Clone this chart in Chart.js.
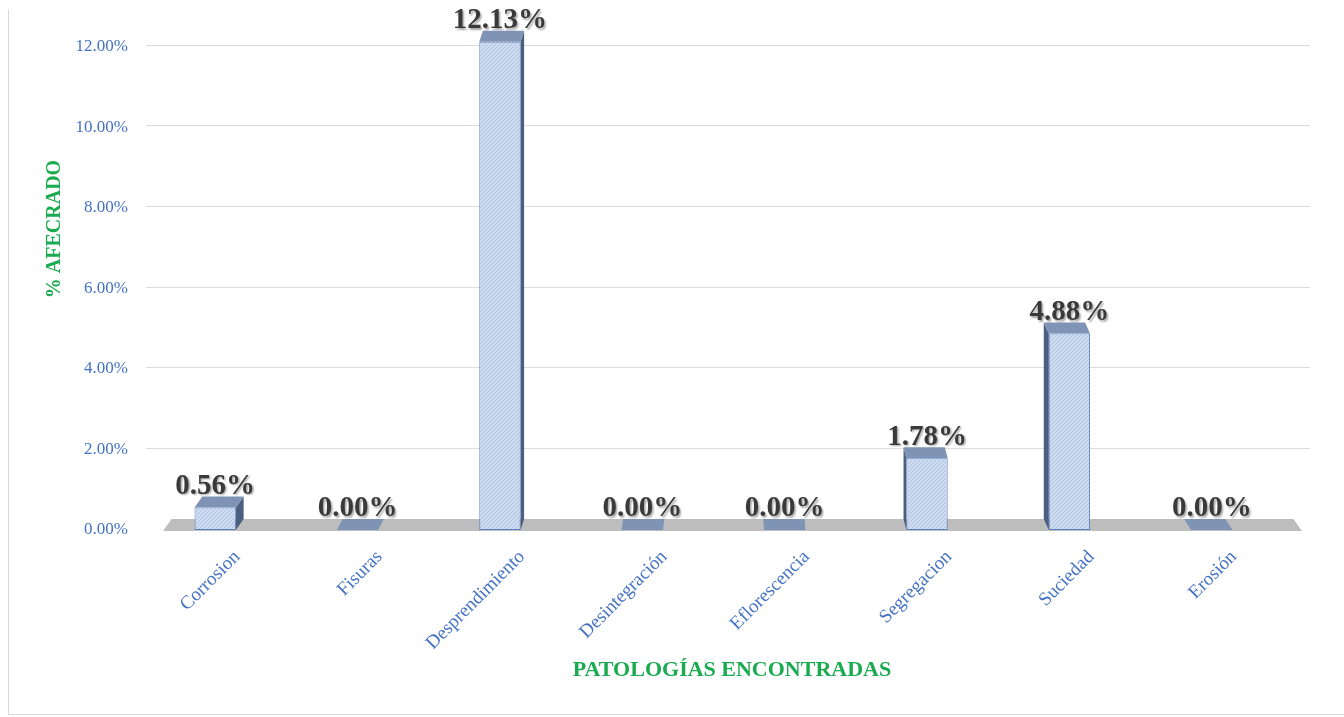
<!DOCTYPE html>
<html><head><meta charset="utf-8">
<script src="https://cdn.jsdelivr.net/npm/chart.js@4"></script>
<style>
html,body{margin:0;padding:0;background:#fff;}
#wrap{position:relative;width:1344px;height:717px;overflow:hidden;}
#frame{position:absolute;left:8px;top:10px;width:1340px;height:704px;border-left:1px solid #d9d9d9;border-bottom:1px solid #d9d9d9;}
canvas{position:absolute;left:0;top:0;}
</style></head><body>
<div id="wrap"><div id="frame"></div><canvas id="c" width="1344" height="717"></canvas></div>
<script>
const categories = ['Corrosion','Fisuras','Desprendimiento','Desintegración','Eflorescencia','Segregacion','Suciedad','Erosión'];
const values = [0.56, 0.00, 12.13, 0.00, 0.00, 1.78, 4.88, 0.00];
const yTickValues = [0, 2, 4, 6, 8, 10, 12];
const yTitle = '% AFECRADO';
const xTitle = 'PATOLOGÍAS ENCONTRADAS';

const SERIF = '"Liberation Serif", "Times New Roman", serif';
const VPX = 735, K = 0.015, DEPTH = 11;

function makePattern(){
  const p = document.createElement('canvas'); p.width = 4; p.height = 4;
  const g = p.getContext('2d');
  g.fillStyle = '#cedcf0'; g.fillRect(0,0,4,4);
  g.fillStyle = '#abc0e2';
  for (let i=0;i<4;i++) g.fillRect(i,3-i,1,1);
  return g.createPattern(p,'repeat');
}
const pattern = makePattern();

const deco = {
  id: 'deco',
  beforeDatasetsDraw(chart){
    const {ctx, chartArea:a, scales:{y}} = chart;
    ctx.save();
    ctx.strokeStyle = '#dcdcdc'; ctx.lineWidth = 1;
    yTickValues.forEach(v => {
      if (v === 0) return;
      const py = Math.round(y.getPixelForValue(v)) - 1.5;
      ctx.beginPath(); ctx.moveTo(a.left+2, py); ctx.lineTo(a.right+27, py); ctx.stroke();
    });
    const b = y.getPixelForValue(0);
    const fl = a.left + 19, fr = a.right + 19;
    ctx.fillStyle = '#bdbdbd';
    ctx.beginPath();
    ctx.moveTo(fl, b+1); ctx.lineTo(fr, b+1);
    ctx.lineTo(fr + (VPX-fr)*K, b-DEPTH); ctx.lineTo(fl + (VPX-fl)*K, b-DEPTH);
    ctx.closePath(); ctx.fill();
    const meta = chart.getDatasetMeta(0);
    meta.data.forEach(el => {
      const {x, y:top, width} = el.getProps(['x','y','width'], true);
      const x0 = x - width/2, x1 = x + width/2, dx = (VPX - x)*K, dy = -DEPTH;
      const sx = dx > 0 ? x1 : x0;
      ctx.fillStyle = '#4b5f80';
      ctx.beginPath(); ctx.moveTo(sx, top); ctx.lineTo(sx+dx, top+dy); ctx.lineTo(sx+dx, b+dy); ctx.lineTo(sx, b); ctx.closePath(); ctx.fill();
      ctx.fillStyle = '#7f93b4';
      ctx.beginPath(); ctx.moveTo(x0, top); ctx.lineTo(x1, top); ctx.lineTo(x1+dx, top+dy); ctx.lineTo(x0+dx, top+dy); ctx.closePath(); ctx.fill();
    });
    ctx.restore();
  },
  afterDatasetsDraw(chart){
    const {ctx} = chart;
    const meta = chart.getDatasetMeta(0);
    ctx.save();
    ctx.font = 'bold 29px ' + SERIF;
    ctx.textAlign = 'center'; ctx.textBaseline = 'middle';
    ctx.shadowColor = 'rgba(0,0,0,0.35)'; ctx.shadowOffsetX = 1.5; ctx.shadowOffsetY = 1.5; ctx.shadowBlur = 2;
    ctx.fillStyle = '#3a3a3a';
    meta.data.forEach((el, i) => {
      const {x, y:top} = el.getProps(['x','y'], true);
      ctx.fillText(values[i].toFixed(2) + '%', x, top - DEPTH - 10);
    });
    ctx.restore();
  },
  afterDraw(chart){
    const {ctx} = chart;
    ctx.save();
    ctx.fillStyle = '#1aab50';
    ctx.textAlign = 'center'; ctx.textBaseline = 'middle';
    ctx.font = 'bold 22px ' + SERIF;
    ctx.fillText(xTitle, 732, 670);
    ctx.translate(55, 229); ctx.rotate(-Math.PI/2);
    ctx.font = 'bold 20px ' + SERIF;
    ctx.fillText(yTitle, 0, 0);
    ctx.restore();
  }
};

new Chart(document.getElementById('c'), {
  type: 'bar',
  data: {
    labels: categories,
    datasets: [{
      data: values,
      backgroundColor: pattern,
      borderColor: '#5b7fc0',
      borderWidth: c => values[c.dataIndex] === 0 ? 0 : 1,
      borderSkipped: false,
      barPercentage: 0.29,
      categoryPercentage: 1,
      clip: false
    }]
  },
  options: {
    responsive: false,
    animation: false,
    layout: { padding: { left: 8, right: 61, top: 47, bottom: 2 } },
    plugins: { legend: { display: false }, tooltip: { enabled: false } },
    scales: {
      y: {
        min: 0, max: 12,
        grid: { display: false }, border: { display: false },
        ticks: { stepSize: 2, padding: 8, color: '#4472c4', font: { family: SERIF, size: 17 },
                 callback: v => Number(v).toFixed(2) + '%' },
        afterFit: s => { s.width = 136; }
      },
      x: {
        grid: { display: false }, border: { display: false },
        ticks: { autoSkip: false, maxRotation: 45, minRotation: 45, labelOffset: 22, padding: 8,
                 color: '#4472c4', font: { family: SERIF, size: 19 } },
        afterFit: s => { s.height = 185; }
      }
    }
  },
  plugins: [deco]
});
</script>
</body></html>
